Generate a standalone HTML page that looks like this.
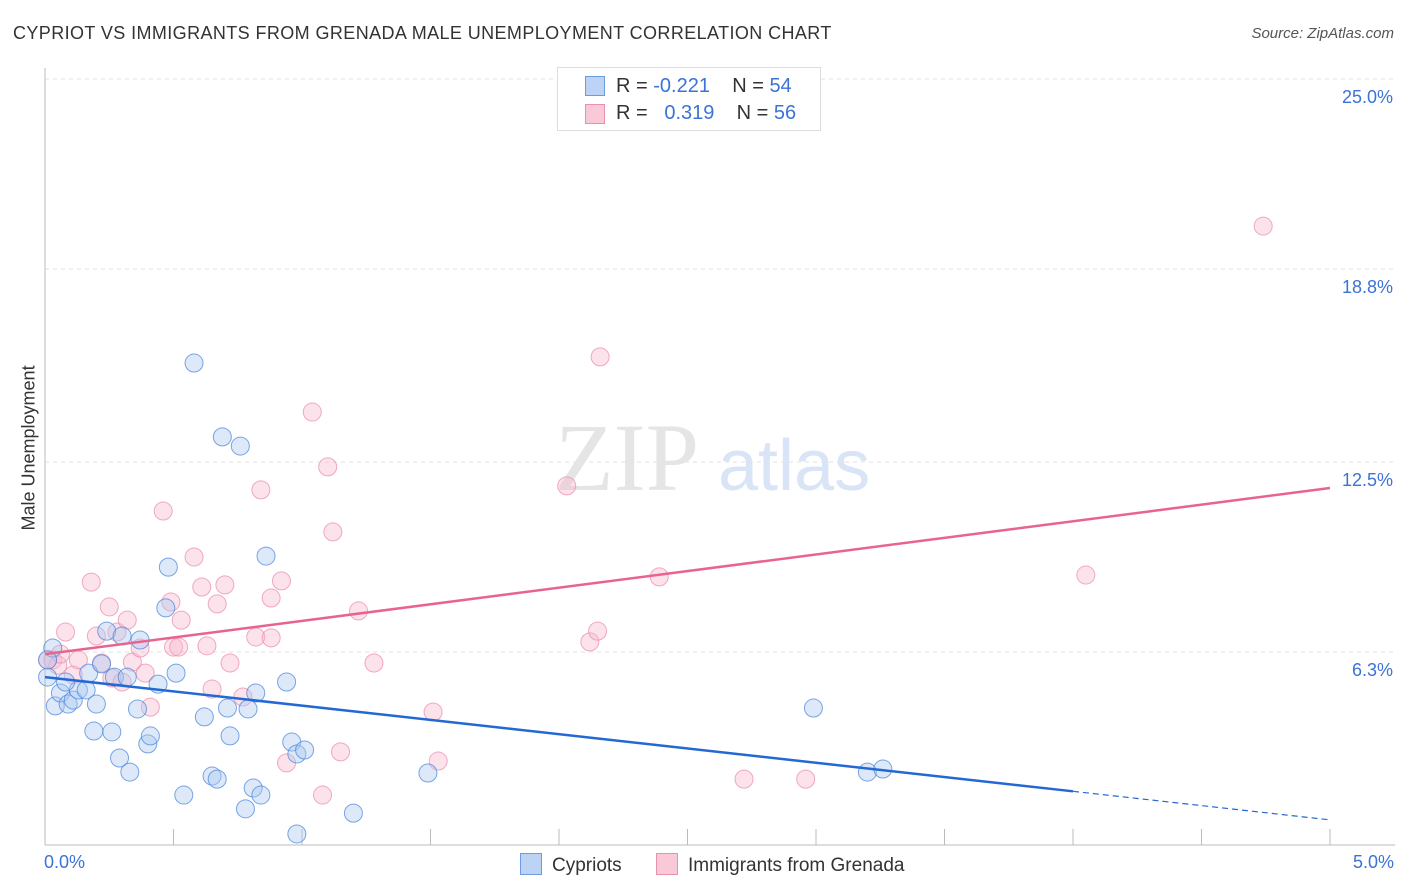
<!DOCTYPE html>
<html><head><meta charset="utf-8">
<style>
body{margin:0;background:#fff;font-family:"Liberation Sans",sans-serif;}
#wrap{position:relative;width:1406px;height:892px;overflow:hidden}
.t{position:absolute;white-space:nowrap}
</style></head>
<body>
<div id="wrap">
<div class="t" style="left:13px;top:23px;font-size:18px;color:#333;letter-spacing:0.4px">CYPRIOT VS IMMIGRANTS FROM GRENADA MALE UNEMPLOYMENT CORRELATION CHART</div>
<div class="t" style="right:12px;top:25px;font-size:15px;color:#555;font-style:italic">Source: ZipAtlas.com</div>
<svg id="svg" width="1406" height="892" style="position:absolute;left:0;top:0"></svg>
</div>
<script>
const blueX=[0.03,0.01,0.04,0.06,0.09,0.11,0.13,0.16,0.08,0.17,0.19,0.20,0.22,0.24,0.26,0.27,0.29,0.30,0.32,0.33,0.36,0.37,0.40,0.41,0.44,0.47,0.48,0.51,0.54,0.58,0.62,0.65,0.67,0.69,0.71,0.72,0.76,0.78,0.79,0.81,0.82,0.84,0.86,0.94,0.96,0.98,1.01,0.98,1.20,1.49,2.99,3.20,3.26,0.01];
const blueY=[6.43,5.48,4.54,4.96,4.60,4.73,5.06,5.06,5.32,5.61,3.72,4.60,5.91,6.98,3.69,5.48,2.84,6.82,5.48,2.38,4.44,6.69,3.30,3.56,5.25,7.74,9.07,5.61,1.63,15.73,4.18,2.25,2.15,13.32,4.47,3.56,13.02,1.18,4.44,1.86,4.96,1.63,9.43,5.32,3.36,2.97,3.10,0.36,1.04,2.35,4.47,2.38,2.48,6.04];
const pinkX=[0.03,0.05,0.06,0.08,0.11,0.13,0.18,0.20,0.22,0.25,0.26,0.28,0.30,0.32,0.34,0.37,0.39,0.41,0.46,0.49,0.50,0.53,0.52,0.58,0.61,0.63,0.65,0.67,0.70,0.72,0.77,0.82,0.84,0.88,0.88,0.92,0.94,1.04,1.08,1.10,1.12,1.15,1.22,1.28,1.51,1.53,2.03,2.12,2.15,2.16,2.39,2.72,2.96,4.05,4.74,0.01];
const pinkY=[6.04,5.87,6.23,6.95,5.55,6.04,8.58,6.82,5.94,7.77,5.45,6.95,5.32,7.34,5.97,6.43,5.61,4.50,10.90,7.93,6.46,7.34,6.46,9.40,8.42,6.50,5.09,7.87,8.49,5.94,4.83,6.79,11.59,8.06,6.76,8.62,2.68,14.13,1.63,12.34,10.22,3.04,7.64,5.94,4.34,2.74,11.72,6.63,6.98,15.93,8.75,2.15,2.15,8.81,20.20,6.04];
const yTicks=[25.0,18.8,12.5,6.3];
const yTickLabels=["25.0%","18.8%","12.5%","6.3%"];
const xTickVals=[0,0.5,1,1.5,2,2.5,3,3.5,4,4.5,5];
const blueTrend=[5.48,-0.932];
const pinkTrend=[6.23,1.084];
const X0=45,X1=1330,Y0=845,Y25=79;
const sx=v=>X0+(v/5)*(X1-X0);
const sy=v=>Y0-(v/25)*(Y0-Y25);
const svg=document.getElementById('svg');
const NS='http://www.w3.org/2000/svg';
function mk(tag,attrs,parent){const e=document.createElementNS(NS,tag);for(const k in attrs)e.setAttribute(k,attrs[k]);(parent||svg).appendChild(e);return e;}
yTicks.forEach((v,i)=>{
 const g=mk('line',{x1:X0,x2:1395,y1:sy(v),y2:sy(v),stroke:'#e2e2e2','stroke-dasharray':'4,4'});
 
 
 const t=mk('text',{x:1393,y:sy(v)+24,'text-anchor':'end','font-size':'18',fill:'#3b73d6','font-family':'Liberation Sans, sans-serif'});
 t.textContent=yTickLabels[i];
 
 
});
let a=mk('line',{x1:X0,x2:X0,y1:68,y2:Y0,stroke:'#bbb'});


a=mk('line',{x1:X0,x2:1395,y1:Y0,y2:Y0,stroke:'#bbb'});


xTickVals.forEach(v=>{
 const t=mk('line',{x1:sx(v),x2:sx(v),y1:829,y2:Y0,stroke:'#bbb'});
 
 
});
let w=mk('text',{x:555,y:490,'font-size':'96','font-family':'Liberation Serif, serif',fill:'#e5e5e5'});w.textContent='ZIP';


w=mk('text',{x:718,y:490,'font-size':'72','font-family':'Liberation Sans, sans-serif',fill:'#d9e4f6'});w.textContent='atlas';


function pts(xs,ys,fill,stroke,name){xs.forEach((x,i)=>{
 const c=mk('circle',{cx:sx(x),cy:sy(ys[i]),r:9,fill:fill,stroke:stroke,'stroke-width':1});
 
 
});}
pts(pinkX,pinkY,'rgba(248,185,206,0.4)','rgba(235,143,174,0.75)','point-grenada');
pts(blueX,blueY,'rgba(170,200,240,0.4)','rgba(77,136,220,0.75)','point-cypriot');
let l=mk('line',{x1:sx(0),y1:sy(blueTrend[0]),x2:sx(4),y2:sy(blueTrend[0]+blueTrend[1]*4),stroke:'#2468d4','stroke-width':2.5});


l=mk('line',{x1:sx(4),y1:sy(blueTrend[0]+blueTrend[1]*4),x2:sx(5),y2:sy(blueTrend[0]+blueTrend[1]*5),stroke:'#2468d4','stroke-width':1.2,'stroke-dasharray':'6,4'});


l=mk('line',{x1:sx(0),y1:sy(pinkTrend[0]),x2:sx(5),y2:sy(pinkTrend[0]+pinkTrend[1]*5),stroke:'#e8648f','stroke-width':2.5});


</script>
<div class="t" style="left:44px;top:852px;font-size:18px;color:#3b73d6">0.0%</div>
<div class="t" style="right:12px;top:852px;font-size:18px;color:#3b73d6">5.0%</div>
<div class="t" style="left:-46px;top:445px;font-size:18px;color:#333;transform:rotate(-90deg);width:150px;text-align:center">Male Unemployment</div>
<div style="position:absolute;left:557px;top:67px;width:262px;height:62px;border:1px solid #ddd;background:#fff;font-size:20px">
 <div style="position:absolute;left:27px;top:8px;width:18px;height:18px;background:#bcd3f5;border:1px solid #6d9be0"></div>
 <div class="t" style="left:58px;top:7px;color:#333">R = <span style="color:#3b73d6">-0.221</span>&nbsp;&nbsp;&nbsp;&nbsp;N = <span style="color:#3b73d6">54</span></div>
 <div style="position:absolute;left:27px;top:36px;width:18px;height:18px;background:#f9c9d8;border:1px solid #eb8fae"></div>
 <div class="t" style="left:58px;top:34px;color:#333">R = &nbsp;<span style="color:#3b73d6">&nbsp;0.319</span>&nbsp;&nbsp;&nbsp;&nbsp;N = <span style="color:#3b73d6">56</span></div>
</div>
<div style="position:absolute;left:520px;top:853px;font-size:19px;color:#333">
 <span style="display:inline-block;width:20px;height:20px;background:#bcd3f5;border:1px solid #6d9be0;vertical-align:-4px;margin-right:10px"></span>Cypriots</div>
<div style="position:absolute;left:656px;top:853px;font-size:19px;color:#333">
 <span style="display:inline-block;width:20px;height:20px;background:#f9c9d8;border:1px solid #eb8fae;vertical-align:-4px;margin-right:10px"></span>Immigrants from Grenada</div>
</body></html>
